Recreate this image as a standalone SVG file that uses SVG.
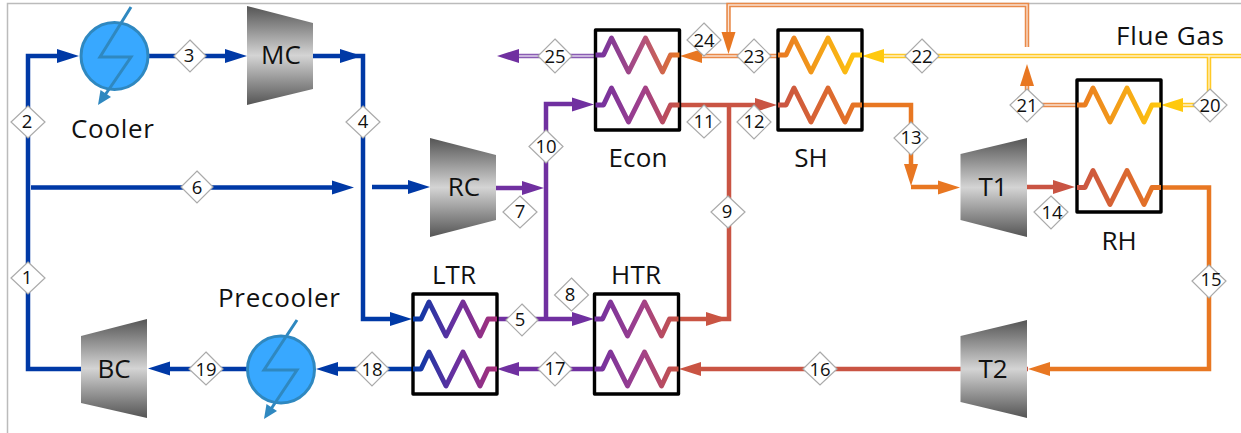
<svg xmlns="http://www.w3.org/2000/svg" width="1241" height="433" viewBox="0 0 1241 433">
<style>
text{font-family:"Open Sans","Noto Sans","Liberation Sans",sans-serif;fill:#111}
.lbl{font-size:26px;text-anchor:middle}
.num{font-size:18.500px;text-anchor:middle}
.d{fill:#fff;stroke:#aaa;stroke-width:1.2}
.box{fill:#fff;stroke:#000;stroke-width:3.4;stroke-linejoin:round}
.coil{fill:none;stroke-width:5;stroke-linejoin:round}
.l{fill:none;stroke-width:4.500}
.blue{stroke:#0039a6}.pur{stroke:#7030a0}.red{stroke:#c95443}.org{stroke:#e87722}
.core{fill:none;stroke:#fff;stroke-width:1.300;stroke-opacity:.75}
.lt{fill:none;stroke:#e98a4a;stroke-width:4.500}
.ly{fill:none;stroke:#ffc926;stroke-width:4.500}
.lp{fill:none;stroke:#8a5cb3;stroke-width:4.500}
.fb{fill:#0039a6}.fp{fill:#7030a0}.fr{fill:#c95443}.fo{fill:#e87722}.fy{fill:#ffc90e}
.turb{stroke:none}
.cool{fill:#38a8ff;stroke:#2f88c0;stroke-width:3}
.bolt{fill:none;stroke:#2f88c0;stroke-width:3}
</style>
<defs>
<linearGradient id="m" x1="0" y1="0" x2="0" y2="1"><stop offset="0" stop-color="#555"/><stop offset=".5" stop-color="#d4d4d4"/><stop offset="1" stop-color="#555"/></linearGradient>
<linearGradient id="g1"><stop offset="0" stop-color="#0039a6"/><stop offset=".5" stop-color="#6a30a0"/><stop offset="1" stop-color="#a83078"/></linearGradient>
<linearGradient id="g2"><stop offset="0" stop-color="#7030a0"/><stop offset=".55" stop-color="#a0408c"/><stop offset="1" stop-color="#c95443"/></linearGradient>
<linearGradient id="g3"><stop offset="0" stop-color="#7030a0"/><stop offset=".55" stop-color="#b0507f"/><stop offset="1" stop-color="#e87722"/></linearGradient>
<linearGradient id="g4"><stop offset="0" stop-color="#e87722"/><stop offset="1" stop-color="#ffc90e"/></linearGradient>
<linearGradient id="g5"><stop offset="0" stop-color="#c95443"/><stop offset="1" stop-color="#e87722"/></linearGradient>
<path id="coil" d="M0 0H8L16 -17L33 17L50 -17L67 17L75 0H84"/>
<path id="ah" d="M0 0L22 -7V7Z"/>
</defs>
<rect width="1241" height="433" fill="#fff"/>
<path d="M7.500 433V3.500H1241" fill="none" stroke="#bbb" stroke-width="1.500"/>

<g id="connectors">
<path class="l blue" d="M81 369H28V56H60"/>
<path class="l blue" d="M149 56H230M313 56H363V319H395M31 187.500H340M372 187H410M413 369H330M247 369H160"/>
<path class="l pur" d="M496 188H530M546 319V104H578M497 319H580M594 369H510"/>
<path class="l red" d="M678 319H729V105H679M729 105H760M1027 187H1060M1028 369H695M960 369H830"/>
<path class="l org" d="M862 105H911V170M911 187H945M1161 187.500H1209V369H1040"/>
<path class="lp" d="M595 56H515"/><path class="core" d="M595 56H515"/>
<path class="lt" d="M778 56H695M1027 47V5H728.500V40M1077 105H1027V80"/><path class="core" d="M778 56H695M1027 47V5H728.500V40M1077 105H1027V80"/>
<path class="ly" d="M1241 56H880M1209 56V105H1178"/><path class="core" d="M1241 56H880M1209 56V105H1178"/>
<use href="#ah" class="fb" transform="translate(79 56) rotate(180)"/>
<use href="#ah" class="fb" transform="translate(247 56) rotate(180)"/>
<use href="#ah" class="fb" transform="translate(362 56) rotate(180)"/>
<use href="#ah" class="fb" transform="translate(354 187.500) rotate(180)"/>
<use href="#ah" class="fb" transform="translate(430 187) rotate(180)"/>
<use href="#ah" class="fb" transform="translate(412 319) rotate(180)"/>
<use href="#ah" class="fb" transform="translate(316 369)"/>
<use href="#ah" class="fb" transform="translate(148 368.500)"/>
<use href="#ah" class="fp" transform="translate(497 56)"/>
<use href="#ah" class="fp" transform="translate(594 104.500) rotate(180)"/>
<use href="#ah" class="fp" transform="translate(544 188) rotate(180)"/>
<use href="#ah" class="fp" transform="translate(594 319) rotate(180)"/>
<use href="#ah" class="fp" transform="translate(497 369)"/>
<use href="#ah" class="fr" transform="translate(728 319) rotate(180)"/>
<use href="#ah" class="fr" transform="translate(679 369)"/>
<use href="#ah" class="fr" transform="translate(777 105) rotate(180)"/>
<use href="#ah" class="fr" transform="translate(1075 187) rotate(180)"/>
<use href="#ah" class="fo" transform="translate(680 56)"/>
<use href="#ah" class="fo" transform="translate(728.500 54) rotate(-90)"/>
<use href="#ah" class="fo" transform="translate(1027 64) rotate(90)"/>
<use href="#ah" class="fo" transform="translate(911 186) rotate(-90)"/>
<use href="#ah" class="fo" transform="translate(960 187.500) rotate(180)"/>
<use href="#ah" class="fo" transform="translate(1028 369)"/>
<use href="#ah" class="fy" transform="translate(862 56)"/>
<use href="#ah" class="fy" transform="translate(1161 105)"/>
</g>

<g id="cooler"><circle class="cool" cx="114.500" cy="56" r="33.500"/><path class="bolt" d="M131 7L100 57H131L103 98"/><path d="M98 105L100.500 90L111 97Z" fill="#2f88c0"/><text class="lbl" x="112.500" y="138" textLength="83">Cooler</text></g>
<g id="precooler"><circle class="cool" cx="281" cy="369.500" r="33.500"/><path class="bolt" d="M297 320L264 370H297L269 412"/><path d="M264 419L266.500 404L277 411Z" fill="#2f88c0"/><text class="lbl" x="279" y="307" textLength="122">Precooler</text></g>
<g id="MC"><path class="turb" fill="url(#m)" d="M247 6L313 23V89L247 105Z"/><text class="lbl" x="281" y="64">MC</text></g>
<g id="RC"><path class="turb" fill="url(#m)" d="M430 138L496 155V220L430 237Z"/><text class="lbl" x="464" y="196">RC</text></g>
<g id="BC"><path class="turb" fill="url(#m)" d="M81 336L147 319V418L81 403Z"/><text class="lbl" x="114" y="378">BC</text></g>
<g id="T1"><path class="turb" fill="url(#m)" d="M960.500 154L1027 138V237L960.500 220Z"/><text class="lbl" x="993" y="196">T1</text></g>
<g id="T2"><path class="turb" fill="url(#m)" d="M960.500 336L1027 320V418L960.500 402Z"/><text class="lbl" x="993" y="378">T2</text></g>

<g id="LTR"><rect class="box" x="413" y="294" width="84" height="100"/><use href="#coil" class="coil" stroke="url(#g1)" transform="translate(413 319)"/><use href="#coil" class="coil" stroke="url(#g1)" transform="translate(413 369)"/><text class="lbl" x="454" y="284">LTR</text></g>
<g id="HTR"><rect class="box" x="594.500" y="294" width="84" height="100"/><use href="#coil" class="coil" stroke="url(#g2)" transform="translate(594.500 319)"/><use href="#coil" class="coil" stroke="url(#g2)" transform="translate(594.500 369)"/><text class="lbl" x="636" y="284" textLength="50">HTR</text></g>
<g id="Econ"><rect class="box" x="595.500" y="30" width="84" height="100"/><use href="#coil" class="coil" stroke="url(#g3)" transform="translate(595.500 55)"/><use href="#coil" class="coil" stroke="url(#g2)" transform="translate(595.500 105)"/><text class="lbl" x="638" y="167" textLength="59">Econ</text></g>
<g id="SH"><rect class="box" x="778" y="30" width="84" height="100"/><use href="#coil" class="coil" stroke="url(#g4)" transform="translate(778 55)"/><use href="#coil" class="coil" stroke="url(#g5)" transform="translate(778 105)"/><text class="lbl" x="811" y="167">SH</text></g>
<g id="RH"><rect class="box" x="1077" y="80" width="84" height="132"/><use href="#coil" class="coil" stroke="url(#g4)" transform="translate(1077 105)"/><use href="#coil" class="coil" stroke="url(#g5)" transform="translate(1077 187.500)"/><text class="lbl" x="1119" y="250">RH</text></g>
<g id="flue-gas"><text class="lbl" x="1170" y="45" textLength="108">Flue Gas</text></g>

<g id="s1"><path class="d" d="M28 262L45 278L28 294L11 278Z"/><text class="num" x="27" y="284">1</text></g>
<g id="s2"><path class="d" d="M28 106L45 122L28 138L11 122Z"/><text class="num" x="27" y="128">2</text></g>
<g id="s3"><path class="d" d="M190 40L206 56L190 72L174 56Z"/><text class="num" x="189" y="62">3</text></g>
<g id="s4"><path class="d" d="M363 106L380 122L363 138L346 122Z"/><text class="num" x="363" y="128">4</text></g>
<g id="s5"><path class="d" d="M522 304L538 320L522 336L506 320Z"/><text class="num" x="520" y="326">5</text></g>
<g id="s6"><path class="d" d="M197 171L213 187L197 203L181 187Z"/><text class="num" x="197" y="194">6</text></g>
<g id="s7"><path class="d" d="M520 196L537 212L520 228L503 212Z"/><text class="num" x="520" y="218">7</text></g>
<g id="s8"><path class="d" d="M571.500 278L588.500 295L571.500 311L554.500 295Z"/><text class="num" x="570" y="301">8</text></g>
<g id="s9"><path class="d" d="M728 196L745 212L728 228L711 212Z"/><text class="num" x="727" y="218">9</text></g>
<g id="s10"><path class="d" d="M546 130L563 146.500L546 163L529 146.500Z"/><text class="num" x="546" y="153">10</text></g>
<g id="s11"><path class="d" d="M704 105L721 122L704 138L687 122Z"/><text class="num" x="704" y="128">11</text></g>
<g id="s12"><path class="d" d="M754 105L771 122L754 139L737 122Z"/><text class="num" x="754" y="128">12</text></g>
<g id="s13"><path class="d" d="M911 122L928 138L911 155L894 138Z"/><text class="num" x="911" y="144">13</text></g>
<g id="s14"><path class="d" d="M1051 196L1068 212L1051 229L1034 212Z"/><text class="num" x="1052" y="219">14</text></g>
<g id="s15"><path class="d" d="M1209 265L1226 281L1209 298L1192 281Z"/><text class="num" x="1211" y="286">15</text></g>
<g id="s16"><path class="d" d="M820 352L837 369L820 385L803 369Z"/><text class="num" x="820" y="376">16</text></g>
<g id="s17"><path class="d" d="M555 352L572 369L555 386L538 369Z"/><text class="num" x="555" y="375">17</text></g>
<g id="s18"><path class="d" d="M372 352L389 369L372 386L355 369Z"/><text class="num" x="372" y="376">18</text></g>
<g id="s19"><path class="d" d="M206 352L223 369L206 385L189 369Z"/><text class="num" x="206" y="376">19</text></g>
<g id="s20"><path class="d" d="M1210 89L1227 105L1210 122L1193 105Z"/><text class="num" x="1210" y="112">20</text></g>
<g id="s21"><path class="d" d="M1027 89L1044 105L1027 122L1010 105Z"/><text class="num" x="1027" y="112">21</text></g>
<g id="s22"><path class="d" d="M922 39L939 56L922 73L905 56Z"/><text class="num" x="922" y="63">22</text></g>
<g id="s23"><path class="d" d="M754 39L771 56L754 73L737 56Z"/><text class="num" x="754" y="63">23</text></g>
<g id="s24"><path class="d" d="M704 23L721 40L704 56L687 40Z"/><text class="num" x="704" y="47">24</text></g>
<g id="s25"><path class="d" d="M555 39L572 56L555 73L538 56Z"/><text class="num" x="555" y="63">25</text></g>
</svg>
